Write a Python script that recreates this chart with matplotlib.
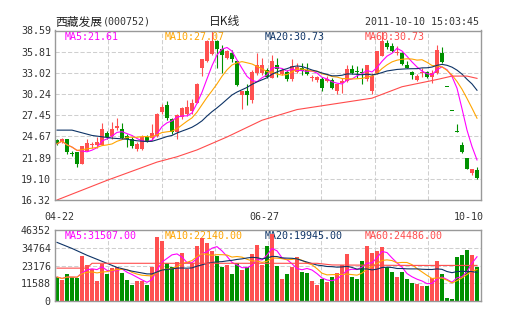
import numpy as np
import pandas as pd
import matplotlib
matplotlib.use("Agg")
import matplotlib.pyplot as plt

# ---------------- data ----------------
opens = [24.2, 23.9, 24.3, 22.5, 22.6, 21.1, 22.8, 23.5, 23.5, 23.6,
         25.1, 24.7, 25.8, 25.6, 24.7, 24.3, 23.0, 23.0, 24.6, 24.5,
         24.7, 27.9, 28.85, 26.9, 25.3, 27.2, 27.6, 28.0, 29.1, 33.6,
         34.6, 35.5, 37.2, 36.1, 35.0, 35.6, 34.6, 30.1, 30.7, 29.4,
         33.0, 33.0, 33.45, 32.4, 34.0, 32.9, 33.2, 32.2, 33.2, 33.7,
         33.4, 32.4, 32.15, 32.25, 32.0, 32.15, 30.6, 31.7, 31.9, 33.56,
         33.3, 33.2, 32.2, 30.6, 33.0, 35.3, 36.9, 36.6, 35.6, 35.6,
         34.0, 33.1, 32.1, 33.0, 33.2, 32.5, 33.0, 35.66, 31.19, 28.06,
         25.27, 23.58, 21.9, 19.9, 20.28]
highs = [24.3, 24.5, 24.4, 22.7, 22.6, 23.4, 24.3, 24.0, 24.6, 26.4,
         25.4, 26.6, 27.1, 26.4, 25.0, 24.6, 24.0, 24.8, 24.9, 26.3,
         27.8, 28.9, 29.3, 27.1, 27.6, 28.6, 29.4, 29.6, 31.7, 34.9,
         37.4, 38.59, 37.4, 36.7, 36.0, 36.0, 34.7, 30.7, 31.5, 33.4,
         35.6, 35.0, 33.6, 35.4, 35.0, 33.6, 33.4, 34.8, 34.3, 34.3,
         34.3, 32.8, 32.6, 32.5, 32.6, 32.3, 31.6, 32.3, 34.0, 34.0,
         33.9, 33.7, 34.0, 33.0, 35.9, 38.5, 37.4, 36.9, 36.6, 35.7,
         34.6, 33.3, 32.9, 33.6, 33.3, 33.4, 36.7, 36.4, 31.19, 28.06,
         26.29, 24.0, 21.9, 20.4, 20.7]
lows = [23.6, 23.8, 22.4, 22.1, 20.7, 21.0, 22.7, 23.1, 23.1, 23.6,
        24.3, 24.4, 25.5, 24.3, 23.3, 23.2, 22.8, 22.9, 23.9, 24.2,
        24.6, 27.6, 26.8, 25.0, 24.4, 27.0, 27.4, 27.6, 29.0, 32.6,
        34.5, 35.4, 33.6, 33.0, 34.8, 34.5, 31.3, 28.3, 28.8, 29.0,
        32.8, 32.8, 32.3, 32.3, 32.5, 32.7, 32.0, 32.0, 33.0, 32.8,
        32.7, 32.0, 31.8, 30.6, 31.8, 30.9, 30.3, 30.4, 31.8, 32.9,
        32.4, 31.6, 32.0, 30.3, 32.9, 35.2, 36.2, 35.7, 35.4, 34.1,
        33.6, 32.2, 32.0, 32.5, 32.4, 31.7, 32.9, 34.3, 31.19, 28.06,
        25.27, 22.5, 20.4, 19.6, 19.1]
closes = [23.7, 24.4, 22.6, 22.4, 21.1, 23.35, 23.8, 23.7, 24.0, 25.6,
          24.6, 25.7, 26.1, 24.5, 24.3, 23.4, 23.7, 24.6, 24.0, 25.1,
          27.6, 28.5, 27.1, 25.3, 27.5, 28.4, 28.6, 29.0, 31.6, 34.8,
          37.2, 37.2, 36.1, 35.4, 35.9, 34.8, 31.4, 30.6, 30.1, 33.2,
          34.0, 34.0, 32.5, 34.6, 33.5, 33.4, 32.2, 33.9, 33.8, 33.3,
          32.9, 32.45, 32.5, 31.05, 32.25, 31.05, 31.5, 32.0, 33.56, 33.0,
          33.1, 33.0, 34.0, 32.6, 35.9, 37.2, 36.4, 35.9, 35.8, 34.2,
          33.7, 32.7, 32.6, 33.1, 32.5, 33.0, 36.0, 34.5, 31.19, 28.06,
          25.27, 22.57, 20.4, 20.4, 19.27]
volumes = [15670, 13680, 17440, 15670, 15230, 29570, 23840, 20970, 13020, 24500,
           17880, 21850, 22070, 18540, 13680, 10370, 13020, 13240, 10370, 22510,
           41930, 39510, 25160, 22290, 25600, 31560, 21190, 24720, 36420, 41490,
           37960, 32880, 29790, 22290, 23390, 17880, 24940, 20530, 22290, 30900,
           37080, 23840, 36420, 44140, 23170, 14120, 17880, 22510, 28690, 18980,
           18320, 12800, 10590, 14350, 12360, 15670, 18320, 23390, 30680, 15890,
           14570, 26260, 36420, 31780, 32660, 35530, 22510, 18760, 15450, 18760,
           14120, 11920, 10810, 9490, 9930, 14790, 26260, 17440, 1770, 880,
           28910, 30240, 33550, 30240, 22070]

# moving-average readings where the history lies before the window
ma20_head_idx = [0, 3, 7, 11, 14, 16, 18]
ma20_head_val = [25.5, 25.5, 24.8, 24.45, 24.3, 24.1, 24.0]
ma60_idx = [0, 10, 20, 24, 28, 34, 41, 48, 56, 63, 69, 76, 79, 82, 84]
ma60_val = [16.32, 18.9, 21.3, 22.0, 22.9, 24.6, 26.8, 28.2, 29.0, 29.7,
            31.2, 32.15, 32.6, 32.6, 32.3]
vol_ma20_head_idx = [0, 3, 6, 9, 12, 15, 18]
vol_ma20_head_val = [38500, 34500, 30000, 26000, 22000, 19500, 17700]
vol_ma60_idx = [0, 6, 7, 52, 55, 70, 84]
vol_ma60_val = [21500, 21500, 24700, 24700, 23600, 23300, 23300]

price_ticks = [16.32, 19.10, 21.89, 24.67, 27.45, 30.24, 33.02, 35.81, 38.59]
vol_ticks = [0, 11588, 23176, 34764, 46352]
date_labels = ["04-22", "06-27", "10-10"]
price_legend = ["MA5:21.61", "MA10:27.07", "MA20:30.73", "MA60:30.73"]
vol_legend = ["MA5:31507.00", "MA10:22140.00", "MA20:19945.00", "MA60:24486.00"]
stock_name = "西藏发展"
stock_code = "(000752)"
chart_title = "日K线"
timestamp = "2011-10-10 15:03:45"

# ---------------- styling ----------------
RED = "#ff5050"
GREEN = "#009100"
MA_COLORS = ["#ff00ff", "#ffa500", "#0d3366", "#ff4c4c"]
GRID = "#cfcfcf"
MONO = "DejaVu Sans Mono"
CJK = ["Noto Sans CJK SC", "DejaVu Sans"]

O = np.array(opens); H = np.array(highs); L = np.array(lows); C = np.array(closes)
V = np.array(volumes)
n = len(C)
x = np.arange(n)
up = C > O
cols = np.where(up, RED, GREEN)

cs = pd.Series(C)
ma5 = cs.rolling(5, min_periods=1).mean().values
ma10 = cs.rolling(10, min_periods=1).mean().values
ma20_full = cs.rolling(20).mean().values
ma20_x = list(ma20_head_idx) + list(range(19, n))
ma20_y = list(ma20_head_val) + list(ma20_full[19:])

vs = pd.Series(V.astype(float))
vma5 = vs.rolling(5, min_periods=1).mean().values
vma10 = vs.rolling(10, min_periods=1).mean().values
vma20_full = vs.rolling(20).mean().values
vma20_x = list(vol_ma20_head_idx) + list(range(19, n))
vma20_y = list(vol_ma20_head_val) + list(vma20_full[19:])

W, Hh = 505, 330
fig = plt.figure(figsize=(W / 100, Hh / 100), dpi=100)
fig.patch.set_facecolor("white")

ax1 = fig.add_axes([55 / W, 1 - 200 / Hh, 426 / W, 169.5 / Hh])
ax2 = fig.add_axes([55 / W, 1 - 300.7 / Hh, 426 / W, 70.2 / Hh])

XL = (-0.4, 84.8)


def style(ax, ticks, labels):
    ax.set_xlim(*XL)
    ax.set_ylim(ticks[0], ticks[-1])
    ax.set_yticks(ticks)
    ax.set_yticklabels(labels, family=MONO, fontsize=7.2, color="#333333")
    ax.tick_params(axis="y", length=0, pad=3)
    for s in ax.spines.values():
        s.set_color("#999999")
        s.set_linewidth(1.0)
        s.set_zorder(10)
    for t in ticks[1:-1]:
        ax.axhline(t, color=GRID, linestyle=(0, (4, 2)), linewidth=0.75, zorder=0)
    span = XL[1] - XL[0]
    for k in range(1, 8):
        ax.axvline(XL[0] + k * span / 8, color=GRID, linestyle=(0, (4, 2)),
                   linewidth=0.75, zorder=0)


# ---- price panel ----
style(ax1, price_ticks, ["%.2f" % t for t in price_ticks])
body_h = np.maximum(np.abs(C - O), 0.14)
ax1.vlines(x, L, H, colors=cols, linewidth=0.8, zorder=4)
ax1.bar(x, body_h, bottom=np.minimum(O, C), width=0.78, color=cols,
        linewidth=0, zorder=5)
ax1.plot(x, ma5, color=MA_COLORS[0], lw=0.8, zorder=6)
ax1.plot(x, ma10, color=MA_COLORS[1], lw=0.8, zorder=6)
ax1.plot(ma20_x, ma20_y, color=MA_COLORS[2], lw=0.8, zorder=6)
ax1.plot(ma60_idx, ma60_val, color=MA_COLORS[3], lw=0.8, zorder=6)
ax1.set_xticks([0.4, 41.4, 82.4])
ax1.set_xticklabels(date_labels, family=MONO, fontsize=7.2, color="#333333")
ax1.tick_params(axis="x", length=0, pad=9)

for i, (txt, c) in enumerate(zip(price_legend, MA_COLORS)):
    ax1.text((65 + 100 * i - 55) / 426, 0.96, txt, transform=ax1.transAxes,
             family=MONO, fontsize=7.2, color=c, va="center", ha="left", zorder=1)

# ---- volume panel ----
style(ax2, vol_ticks, [str(t) for t in vol_ticks])
ax2.set_xticks([])
ax2.bar(x, V, width=0.78, color=cols, linewidth=0, zorder=3)
ax2.plot(x, vma5, color=MA_COLORS[0], lw=0.8, zorder=6)
ax2.plot(x, vma10, color=MA_COLORS[1], lw=0.8, zorder=6)
ax2.plot(vma20_x, vma20_y, color=MA_COLORS[2], lw=0.8, zorder=6)
ax2.plot(vol_ma60_idx, vol_ma60_val, color=MA_COLORS[3], lw=0.8, zorder=6)

for i, (txt, c) in enumerate(zip(vol_legend, MA_COLORS)):
    ax2.text((65 + 100 * i - 55) / 426, 0.915, txt, transform=ax2.transAxes,
             family=MONO, fontsize=7.2, color=c, va="center", ha="left", zorder=1)

# ---- header ----
fig.text(55 / W, 1 - 22 / Hh, stock_name, family=CJK, fontsize=8.5,
         color="#222222", va="center", ha="left")
fig.text(103 / W, 1 - 22 / Hh, stock_code, family=MONO, fontsize=7.2,
         color="#333333", va="center", ha="left")
fig.text(225 / W, 1 - 22 / Hh, chart_title, family=CJK, fontsize=8.5,
         color="#222222", va="center", ha="center")
fig.text(479 / W, 1 - 22 / Hh, timestamp, family=MONO, fontsize=7.2,
         color="#333333", va="center", ha="right")

fig.savefig("out.png", dpi=100, facecolor="white")
